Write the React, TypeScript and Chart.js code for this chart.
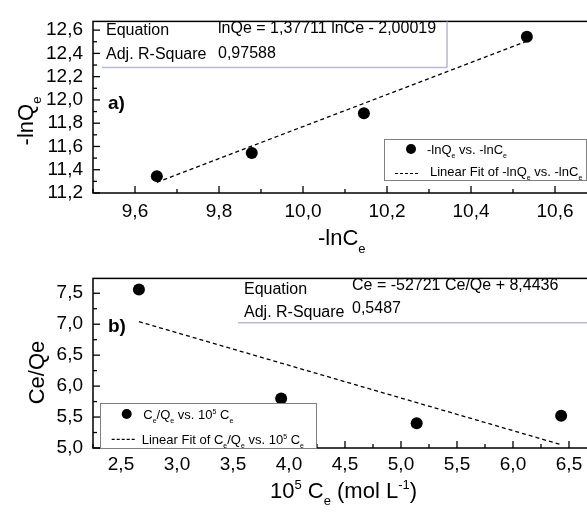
import React, { useEffect, useRef } from "react";
import { Chart, registerables } from "chart.js";

Chart.register(...registerables);

// ---- Panel a): -lnQe against -lnCe ----
const lnCe = [9.652, 9.878, 10.145, 10.533];
const lnQe = [11.345, 11.544, 11.886, 12.544];
const fitASlope = 1.37711;
const fitAIntercept = -2.00019;
const xTicksA = [9.6, 9.8, 10.0, 10.2, 10.4, 10.6];
const yTicksA = [11.2, 11.4, 11.6, 11.8, 12.0, 12.2, 12.4, 12.6];

// ---- Panel b): Ce/Qe against 10^5 Ce ----
const ce5 = [2.66, 3.93, 5.14, 6.43];
const ceOverQe = [7.56, 5.8, 5.4, 5.52];
const fitBSlope = -0.52721;
const fitBIntercept = 8.4436;
const xTicksB = [2.5, 3.0, 3.5, 4.0, 4.5, 5.0, 5.5, 6.0, 6.5];
const yTicksB = [5.0, 5.5, 6.0, 6.5, 7.0, 7.5];

const FONT = "'Liberation Sans', Arial, Helvetica, sans-serif";
const LAVENDER = "#b9b9d9";

type Seg = { t: string; size: number; dy?: number; bold?: boolean };

function setFont(ctx: CanvasRenderingContext2D, s: Seg) {
  ctx.font = `${s.bold ? "bold " : ""}${s.size}px ${FONT}`;
}

function richWidth(ctx: CanvasRenderingContext2D, segs: Seg[]) {
  let w = 0;
  for (const s of segs) {
    setFont(ctx, s);
    w += ctx.measureText(s.t).width;
  }
  return w;
}

function drawRich(ctx: CanvasRenderingContext2D, segs: Seg[], x: number, y: number) {
  let cx = x;
  ctx.textAlign = "left";
  ctx.textBaseline = "alphabetic";
  ctx.fillStyle = "#000";
  for (const s of segs) {
    setFont(ctx, s);
    ctx.fillText(s.t, cx, y + (s.dy || 0));
    cx += ctx.measureText(s.t).width;
  }
}

function drawRotated(ctx: CanvasRenderingContext2D, segs: Seg[], baselineX: number, centerY: number) {
  const w = richWidth(ctx, segs);
  ctx.save();
  ctx.translate(baselineX, centerY + w / 2);
  ctx.rotate(-Math.PI / 2);
  drawRich(ctx, segs, 0, 0);
  ctx.restore();
}

function midpoints(ticks: number[], min: number, max: number) {
  const step = ticks[1] - ticks[0];
  const out: number[] = [];
  for (let v = ticks[0] - step / 2; v <= max + 1e-9; v += step) {
    if (v >= min - 1e-9) out.push(v);
  }
  return out;
}

const fmt = (v: number | string) => Number(v).toFixed(1).replace(".", ",");

const sub = (t: string, size = 7, dy = 4): Seg => ({ t, size, dy });
const sup = (t: string, size = 7, dy = -5): Seg => ({ t, size, dy });

interface Decor {
  xTicks: number[];
  yTicks: number[];
  xMin: number;
  xMax: number;
  yMin: number;
  yMax: number;
  draw: (ctx: CanvasRenderingContext2D, area: { left: number; top: number; right: number; bottom: number }) => void;
}

function framePlugin(d: Decor) {
  return {
    id: "frameDecor",
    afterDraw(chart: any) {
      const { ctx, chartArea: a, scales } = chart;
      const x = scales.x;
      const y = scales.y;
      ctx.save();
      ctx.strokeStyle = "#000";
      ctx.lineWidth = 1.5;
      ctx.strokeRect(a.left, a.top, a.right - a.left, a.bottom - a.top);

      ctx.lineWidth = 1.3;
      const tick = (px: number, py: number, qx: number, qy: number) => {
        ctx.beginPath();
        ctx.moveTo(px, py);
        ctx.lineTo(qx, qy);
        ctx.stroke();
      };
      for (const v of d.xTicks) {
        const p = x.getPixelForValue(v);
        tick(p, a.bottom, p, a.bottom - 7);
      }
      for (const v of midpoints(d.xTicks, d.xMin, d.xMax)) {
        const p = x.getPixelForValue(v);
        tick(p, a.bottom, p, a.bottom - 4);
      }
      for (const v of d.yTicks) {
        const p = y.getPixelForValue(v);
        tick(a.left, p, a.left + 7, p);
      }
      for (const v of midpoints(d.yTicks, d.yMin, d.yMax)) {
        const p = y.getPixelForValue(v);
        tick(a.left, p, a.left + 4, p);
      }
      d.draw(ctx, a);
      ctx.restore();
    },
  };
}

function legendBox(
  ctx: CanvasRenderingContext2D,
  box: { x: number; y: number; w: number; h: number },
  dot: { x: number; y: number },
  dotText: Seg[],
  dotTextPos: { x: number; y: number },
  dash: { x1: number; x2: number; y: number },
  dashText: Seg[],
  dashTextPos: { x: number; y: number }
) {
  ctx.fillStyle = "#fff";
  ctx.fillRect(box.x, box.y, box.w, box.h);
  ctx.strokeStyle = "#808080";
  ctx.lineWidth = 1;
  ctx.strokeRect(box.x + 0.5, box.y + 0.5, box.w, box.h);
  ctx.fillStyle = "#000";
  ctx.beginPath();
  ctx.arc(dot.x, dot.y, 5, 0, Math.PI * 2);
  ctx.fill();
  drawRich(ctx, dotText, dotTextPos.x, dotTextPos.y);
  ctx.strokeStyle = "#000";
  ctx.lineWidth = 1.2;
  ctx.setLineDash([3, 2]);
  ctx.beginPath();
  ctx.moveTo(dash.x1, dash.y);
  ctx.lineTo(dash.x2, dash.y);
  ctx.stroke();
  ctx.setLineDash([]);
  drawRich(ctx, dashText, dashTextPos.x, dashTextPos.y);
}

const decorA: Decor = {
  xTicks: xTicksA,
  yTicks: yTicksA,
  xMin: 9.5,
  xMax: 10.7,
  yMin: 11.2,
  yMax: 12.675,
  draw(ctx, a) {
    // fit statistics table
    ctx.strokeStyle = LAVENDER;
    ctx.lineWidth = 1.6;
    ctx.beginPath();
    ctx.moveTo(102, 67.5);
    ctx.lineTo(447, 67.5);
    ctx.moveTo(447, a.top);
    ctx.lineTo(447, 67.5);
    ctx.stroke();
    drawRich(ctx, [{ t: "Equation", size: 16 }], 106, 34.5);
    drawRich(ctx, [{ t: "Adj. R-Square", size: 16 }], 106, 58.5);
    drawRich(ctx, [{ t: "lnQe = 1,37711 lnCe - 2,00019", size: 16 }], 218, 32.5);
    drawRich(ctx, [{ t: "0,97588", size: 16 }], 218, 58);

    drawRich(ctx, [{ t: "a)", size: 19, bold: true }], 108, 108.5);

    legendBox(
      ctx,
      { x: 384, y: 139, w: 202, h: 41 },
      { x: 411, y: 149 },
      [{ t: "-lnQ", size: 13 }, sub("e"), { t: " vs. -lnC", size: 13 }, sub("e")],
      { x: 427, y: 153.5 },
      { x1: 395, x2: 420, y: 173.5 },
      [{ t: "Linear Fit of -lnQ", size: 13 }, sub("e"), { t: " vs. -lnC", size: 13 }, sub("e")],
      { x: 430, y: 176 }
    );

    // axis titles
    drawRich(ctx, [{ t: "-lnC", size: 22 }, sub("e", 13, 8)], 318, 245);
    drawRotated(ctx, [{ t: "-lnQ", size: 22 }, sub("e", 13, 8)], 33, 121);
  },
};

const OFF_B = 257;

const decorB: Decor = {
  xTicks: xTicksB,
  yTicks: yTicksB,
  xMin: 2.25,
  xMax: 6.75,
  yMin: 5.0,
  yMax: 7.74,
  draw(ctx, a) {
    ctx.strokeStyle = LAVENDER;
    ctx.lineWidth = 1.6;
    ctx.beginPath();
    ctx.moveTo(238, 322.7 - OFF_B);
    ctx.lineTo(a.right, 322.7 - OFF_B);
    ctx.stroke();
    drawRich(ctx, [{ t: "Equation", size: 16 }], 244, 293.5 - OFF_B);
    drawRich(ctx, [{ t: "Adj. R-Square", size: 16 }], 244, 317 - OFF_B);
    drawRich(ctx, [{ t: "Ce = -52721 Ce/Qe + 8,4436", size: 16 }], 352, 289.5 - OFF_B);
    drawRich(ctx, [{ t: "0,5487", size: 16 }], 352, 313 - OFF_B);

    drawRich(ctx, [{ t: "b)", size: 19, bold: true }], 108, 332 - OFF_B);

    legendBox(
      ctx,
      { x: 100, y: 403 - OFF_B, w: 216, h: a.bottom - (403 - OFF_B) },
      { x: 126.7, y: 414 - OFF_B },
      [
        { t: "C", size: 13 },
        sub("e"),
        { t: "/Q", size: 13 },
        sub("e"),
        { t: " vs. 10", size: 13 },
        sup("5"),
        { t: " C", size: 13 },
        sub("e"),
      ],
      { x: 143.3, y: 418.5 - OFF_B },
      { x1: 111.7, x2: 136.7, y: 439.3 - OFF_B },
      [
        { t: "Linear Fit of C", size: 13 },
        sub("e"),
        { t: "/Q", size: 13 },
        sub("e"),
        { t: " vs. 10", size: 13 },
        sup("5"),
        { t: " C", size: 13 },
        sub("e"),
      ],
      { x: 141.7, y: 444 - OFF_B }
    );

    drawRich(
      ctx,
      [
        { t: "10", size: 22 },
        sup("5", 13, -9),
        { t: " C", size: 22 },
        sub("e", 13, 7),
        { t: " (mol L", size: 22 },
        sup("-1", 13, -9),
        { t: ")", size: 22 },
      ],
      270,
      498 - OFF_B
    );
    drawRotated(ctx, [{ t: "Ce/Qe", size: 22 }], 44, 372.5 - OFF_B);
  },
};

function buildChart(
  canvas: HTMLCanvasElement,
  xs: number[],
  ys: number[],
  slope: number,
  intercept: number,
  d: Decor,
  pad: { top: number; right: number },
  xAxisHeight: number,
  xLabelPad: number
) {
  const points = xs.map((x, i) => ({ x, y: ys[i] }));
  const fitX = [xs[0], xs[xs.length - 1]];
  const fitLine = fitX.map((x) => ({ x, y: slope * x + intercept }));
  const tickFont = { family: FONT, size: 19 };
  return new Chart(canvas, {
    type: "scatter",
    data: {
      datasets: [
        {
          data: points,
          pointRadius: 6,
          pointHoverRadius: 6,
          backgroundColor: "#000",
          borderColor: "#000",
          borderWidth: 0,
        },
        {
          data: fitLine,
          showLine: true,
          pointRadius: 0,
          borderColor: "#000",
          borderWidth: 1.3,
          borderDash: [4, 3],
          fill: false,
        },
      ],
    },
    options: {
      responsive: false,
      animation: false,
      events: [],
      layout: { padding: { top: pad.top, right: pad.right, left: 0, bottom: 0 } },
      plugins: { legend: { display: false }, tooltip: { enabled: false } },
      scales: {
        x: {
          type: "linear",
          min: d.xMin,
          max: d.xMax,
          grid: { display: false, drawTicks: false },
          border: { display: false },
          ticks: {
            font: tickFont,
            color: "#000",
            padding: xLabelPad,
            maxRotation: 0,
            autoSkip: false,
            callback: (v: any) => fmt(v),
          },
          afterBuildTicks: (s: any) => {
            s.ticks = d.xTicks.map((value) => ({ value }));
          },
          afterFit: (s: any) => {
            s.height = xAxisHeight;
          },
        },
        y: {
          type: "linear",
          min: d.yMin,
          max: d.yMax,
          grid: { display: false, drawTicks: false },
          border: { display: false },
          ticks: {
            font: tickFont,
            color: "#000",
            padding: 10,
            autoSkip: false,
            callback: (v: any) => fmt(v),
          },
          afterBuildTicks: (s: any) => {
            s.ticks = d.yTicks.map((value) => ({ value }));
          },
          afterFit: (s: any) => {
            s.width = 93;
          },
        },
      },
    } as any,
    plugins: [framePlugin(d)],
  });
}

export default function App() {
  const refA = useRef<HTMLCanvasElement>(null);
  const refB = useRef<HTMLCanvasElement>(null);

  useEffect(() => {
    const a = buildChart(refA.current!, lnCe, lnQe, fitASlope, fitAIntercept, decorA, { top: 16, right: 23 }, 64, 7);
    const b = buildChart(refB.current!, ce5, ceOverQe, fitBSlope, fitBIntercept, decorB, { top: 11, right: 23 }, 67, 5);
    return () => {
      a.destroy();
      b.destroy();
    };
  }, []);

  return (
    <div
      style={{
        position: "fixed",
        left: 0,
        top: 0,
        width: 587,
        height: 515,
        overflow: "hidden",
        background: "#fff",
      }}
    >
      <canvas ref={refA} width={620} height={257} style={{ position: "absolute", left: 0, top: 0 }} />
      <canvas ref={refB} width={620} height={258} style={{ position: "absolute", left: 0, top: 257 }} />
    </div>
  );
}
